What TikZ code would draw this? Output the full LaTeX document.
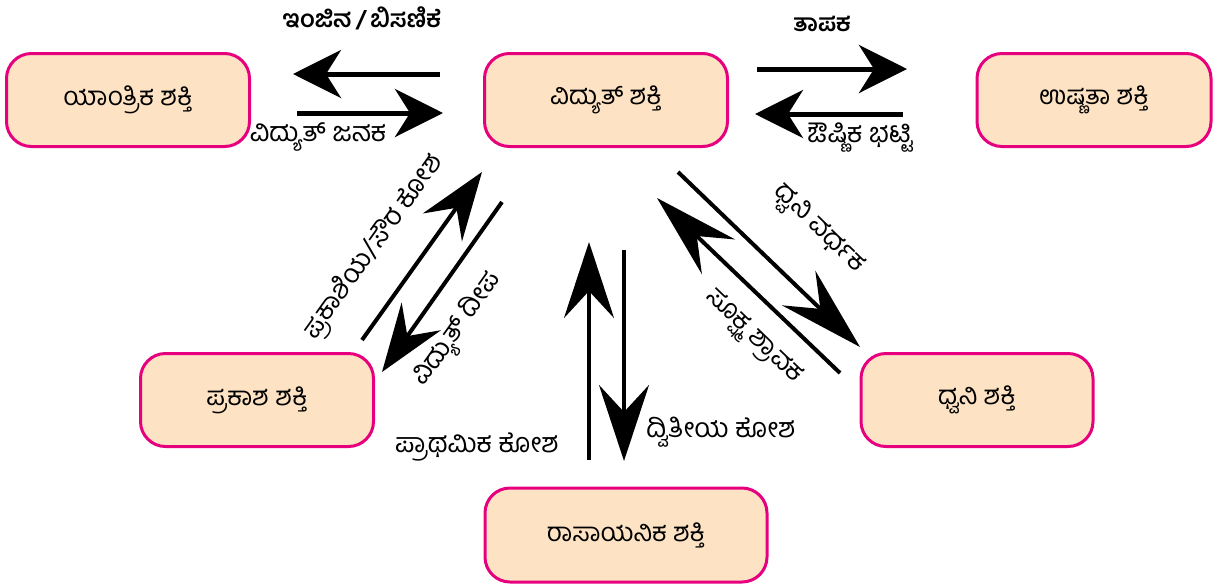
\documentclass[tikz,border=0pt]{standalone}
\usepackage{fontspec}
\newfontfamily\kn[Script=Kannada]{Hind Mysuru}
\usetikzlibrary{arrows.meta}
\definecolor{boxfill}{HTML}{FDE3C3}
\definecolor{boxline}{HTML}{E6007E}
\begin{document}
\begin{tikzpicture}[x=1pt,y=-1pt,
  energy/.style={draw=boxline, fill=boxfill, line width=3pt, rounded corners=25pt,
    minimum height=93pt, inner sep=0pt, font=\kn\fontsize{26}{30}\selectfont},
  lbl/.style={inner sep=0pt, font=\kn\fontsize{27}{31}\selectfont},
  lblb/.style={inner sep=0pt, font=\kn\bfseries\fontsize{24}{28}\selectfont},
  headS/.style={line width=5pt, -{Stealth[length=48pt,width=48pt,inset=15pt]}},
  headM/.style={line width=4pt, -{Stealth[length=68pt,width=48pt,inset=24pt]}},
  headL/.style={line width=4pt, -{Stealth[length=76pt,width=50pt,inset=27pt]}},
  headXL/.style={line width=4pt, -{Stealth[length=85pt,width=48pt,inset=30pt]}}]
\useasboundingbox (0,0) rectangle (1223,587);

% energy boxes
\node[energy, minimum width=243pt] (ym)  at (128,100) {ಯಾಂತ್ರಿಕ ಶಕ್ತಿ};
\node[energy, minimum width=243pt] (vid) at (606,100) {ವಿದ್ಯುತ್ ಶಕ್ತಿ};
\node[energy, minimum width=234pt] (ush) at (1094,100) {ಉಷ್ಣತಾ ಶಕ್ತಿ};
\node[energy, minimum width=233pt] (pra) at (257,400) {ಪ್ರಕಾಶ ಶಕ್ತಿ};
\node[energy, minimum width=232pt] (dhv) at (977,400) {ಧ್ವನಿ ಶಕ್ತಿ};
\node[energy, minimum width=282pt, minimum height=94pt] (ras) at (626,535) {ರಾಸಾಯನಿಕ ಶಕ್ತಿ};

% arrow end points
\coordinate (a1s) at (440,74);  \coordinate (a1e) at (293,74);
\coordinate (a2s) at (297,113); \coordinate (a2e) at (443,113);
\coordinate (a3s) at (757,69);  \coordinate (a3e) at (907,69);
\coordinate (a4s) at (903,114); \coordinate (a4e) at (755,114);
\coordinate (a5s) at (362,340); \coordinate (a5e) at (482,172);
\coordinate (a6s) at (502,202); \coordinate (a6e) at (382,372);
\coordinate (a7s) at (678,172); \coordinate (a7e) at (860,347);
\coordinate (a8s) at (840,373); \coordinate (a8e) at (657,198);
\coordinate (a9s) at (589,460); \coordinate (a9e) at (589,242);
\coordinate (a10s) at (624,250); \coordinate (a10e) at (624,461);

\draw[headS] (a1s) -- (a1e);
\draw[headS] (a2s) -- (a2e);
\draw[headS] (a3s) -- (a3e);
\draw[headS] (a4s) -- (a4e);
\draw[headM] (a5s) -- (a5e);
\draw[headM] (a6s) -- (a6e);
\draw[headXL] (a7s) -- (a7e);
\draw[headXL] (a8s) -- (a8e);
\draw[headL] (a9s) -- (a9e);
\draw[headL] (a10s) -- (a10e);

% labels
\node[lblb] (l1) at (362,18) {ಇಂಜಿನ\,/\,ಬಿಸಣಿಕೆ};
\node[lbl]  (l2) at (318,137) {ವಿದ್ಯುತ್ ಜನಕ};
\node[lblb] (l3) at (822,24) {ತಾಪಕ};
\node[lbl]  (l4) at (860,138) {ಔಷ್ಣಿಕ ಭಟ್ಟಿ};
\node[lbl, rotate=54.5] (l5) at (374,247) {ಪ್ರಕಾಶಿಯ/ಸೌರ ಕೋಶ};
\node[lbl, rotate=54.5] (l6) at (458,330) {ವಿದ್ಯುತ್ ದೀಪ};
\node[lbl, rotate=-44] (l7) at (818,230) {ಧ್ವನಿ ವರ್ಧಕ};
\node[lbl, rotate=-44] (l8) at (752,338) {ಸೂಕ್ಷ್ಮ ಶ್ರಾವಕ};
\node[lbl] (l9) at (477,447) {ಪ್ರಾಥಮಿಕ ಕೋಶ};
\node[lbl] (l10) at (721,432) {ದ್ವಿತೀಯ ಕೋಶ};
\end{tikzpicture}
\end{document}
